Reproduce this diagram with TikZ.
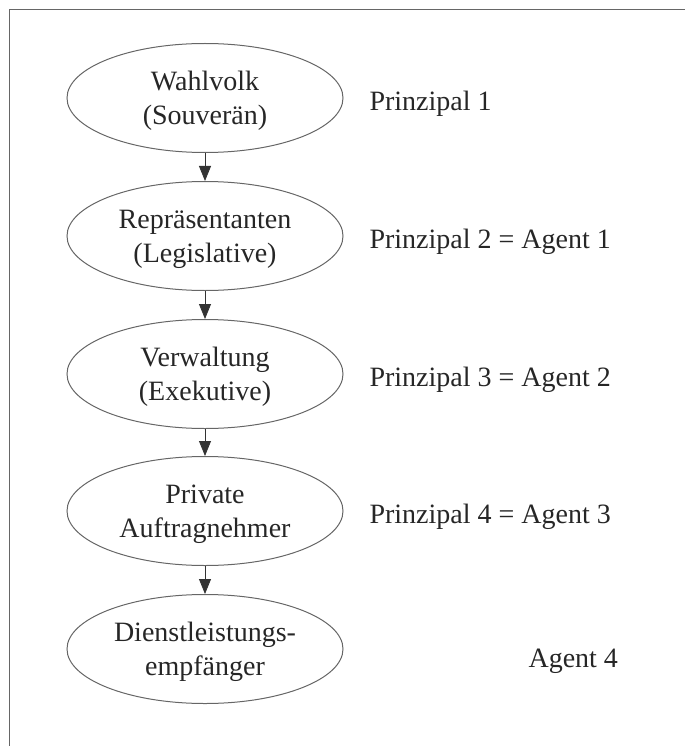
\documentclass[tikz,border=0pt]{standalone}
\usepackage{fontspec}
\setmainfont{Liberation Serif}
\usetikzlibrary{shapes.geometric,arrows.meta}
\begin{document}
\begin{tikzpicture}[x=1pt,y=-1pt,
  ell/.style={draw=black!60,line width=1pt,ellipse,minimum width=276pt,minimum height=109pt,inner sep=0pt,align=center,font=\fontsize{28}{34}\selectfont,text=black!85},
  lab/.style={anchor=west,font=\fontsize{28}{30}\selectfont,text=black!85},
  conn/.style={draw=black!80,line width=0.8pt,-{Triangle[length=15pt,width=12pt]}}]
\useasboundingbox (0,0) rectangle (685,746);
\draw[black!60,line width=1pt] (9,746) -- (9,10) -- (685,10);
\node[ell] (n1) at (205,98) {};
\node[ell] (n2) at (205,236) {};
\node[ell] (n3) at (205,374) {};
\node[ell] (n4) at (205,511) {};
\node[ell] (n5) at (205,649) {};
\node[ell,draw=none] (t1) at (205,101) {Wahlvolk\\(Souverän)};
\node[ell,draw=none] (t2) at (205,239) {Repräsentanten\\(Legislative)};
\node[ell,draw=none] (t3) at (205,377) {Verwaltung\\(Exekutive)};
\node[ell,draw=none] (t4) at (205,514) {Private\\Auftragnehmer};
\node[ell,draw=none] (t5) at (205,652) {Dienstleistungs-\\empfänger};
\draw[conn] (n1) -- (n2);
\draw[conn] (n2) -- (n3);
\draw[conn] (n3) -- (n4);
\draw[conn] (n4) -- (n5);
\node[lab] (l1) at (366,104) {Prinzipal 1};
\node[lab] (l2) at (366,242) {Prinzipal 2 = Agent 1};
\node[lab] (l3) at (366,380) {Prinzipal 3 = Agent 2};
\node[lab] (l4) at (366,517) {Prinzipal 4 = Agent 3};
\node[lab] (l5) at (525,661) {Agent 4};
\end{tikzpicture}
\end{document}
